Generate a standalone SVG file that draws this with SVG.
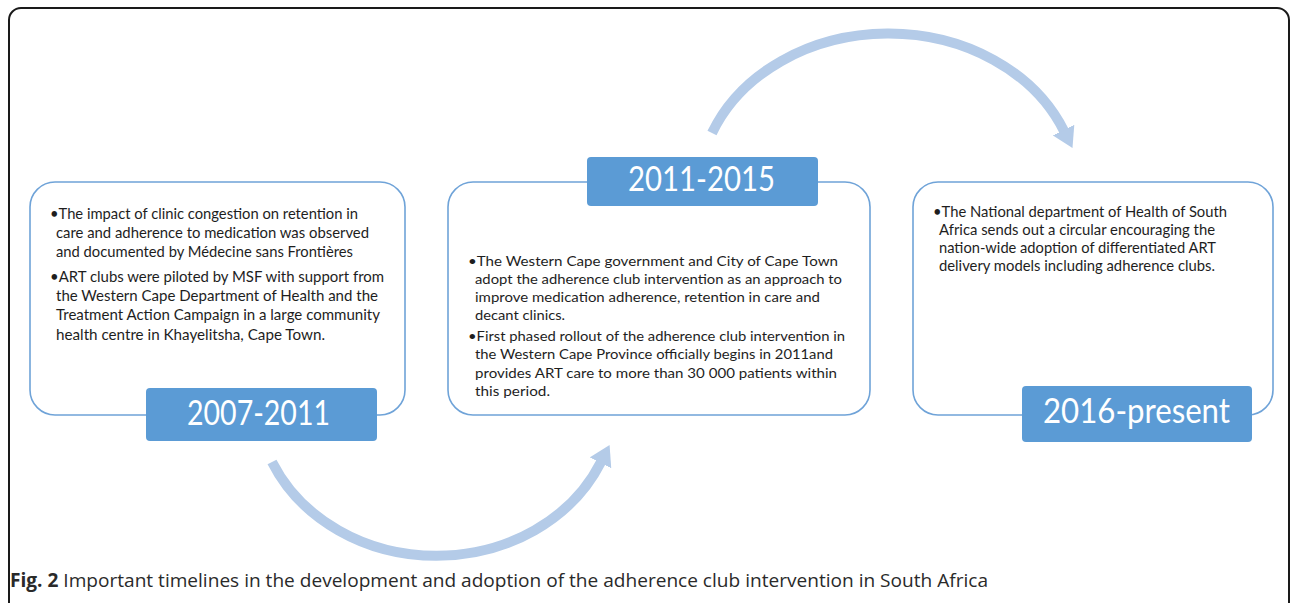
<svg xmlns="http://www.w3.org/2000/svg" width="1290" height="603" viewBox="0 0 1290 603">
<style>
.frame{fill:#fff;stroke:#1a1a1a;stroke-width:2}
.box{fill:#fff;stroke:#6fa3d8;stroke-width:1.6}
.lab{fill:#5b9bd5}
.labt{fill:#fff;font-family:Lato,"Open Sans",sans-serif;font-size:35px}
.t1{fill:#1e1e1e;font-family:Lato,"Liberation Sans",sans-serif;font-size:15px}
.t2{fill:#1e1e1e;font-family:Lato,"Liberation Sans",sans-serif;font-size:14px}
.arc{fill:none;stroke:#b4cbe8;stroke-width:10}
.cap{fill:#2a2a2a;font-family:"Open Sans","Liberation Sans",sans-serif;font-size:19px}
</style>
<defs>
<marker id="ah" markerUnits="userSpaceOnUse" markerWidth="20" markerHeight="24" refX="1" refY="12" orient="auto" viewBox="0 0 20 24">
<path d="M0,0 L20,12 L0,24 z" fill="#b4cbe8"/>
</marker>
</defs>
<rect class="frame" x="9" y="8" width="1280" height="610" rx="12"/>
<g id="connectors">
<path class="arc" d="M712,133 A190,158 0 0 1 1064,131" marker-end="url(#ah)"/>
<path class="arc" d="M272,462 A180,158 0 0 0 601,462" marker-end="url(#ah)"/>
</g>
<g id="node-2007">
<rect class="box" x="30" y="182" width="375" height="233" rx="25"/>
<rect class="lab" x="146" y="388" width="231" height="53" rx="4"/>
<text class="labt" x="187" y="425" textLength="143" lengthAdjust="spacingAndGlyphs">2007-2011</text>
<text class="t1" x="50" y="219" textLength="308" lengthAdjust="spacingAndGlyphs">•The impact of clinic congestion on retention in</text>
<text class="t1" x="56" y="238" textLength="313" lengthAdjust="spacingAndGlyphs">care and adherence to medication was observed</text>
<text class="t1" x="56" y="257" textLength="297" lengthAdjust="spacingAndGlyphs">and documented by Médecine sans Frontières</text>
<text class="t1" x="50" y="282" textLength="334" lengthAdjust="spacingAndGlyphs">•ART clubs were piloted by MSF with support from</text>
<text class="t1" x="56" y="301" textLength="322" lengthAdjust="spacingAndGlyphs">the Western Cape Department of Health and the</text>
<text class="t1" x="56" y="320" textLength="324" lengthAdjust="spacingAndGlyphs">Treatment Action Campaign in a large community</text>
<text class="t1" x="56" y="340" textLength="269" lengthAdjust="spacingAndGlyphs">health centre in Khayelitsha, Cape Town.</text>
</g>
<g id="node-2011">
<rect class="box" x="448" y="182" width="422" height="233" rx="25"/>
<rect class="lab" x="587" y="157" width="231" height="49" rx="4"/>
<text class="labt" x="628" y="191" textLength="147" lengthAdjust="spacingAndGlyphs">2011-2015</text>
<text class="t2" x="468" y="266" textLength="370" lengthAdjust="spacingAndGlyphs">•The Western Cape government and City of Cape Town</text>
<text class="t2" x="475" y="284" textLength="367" lengthAdjust="spacingAndGlyphs">adopt the adherence club intervention as an approach to</text>
<text class="t2" x="475" y="302" textLength="345" lengthAdjust="spacingAndGlyphs">improve medication adherence, retention in care and</text>
<text class="t2" x="475" y="320" textLength="90" lengthAdjust="spacingAndGlyphs">decant clinics.</text>
<text class="t2" x="468" y="341" textLength="377" lengthAdjust="spacingAndGlyphs">•First phased rollout of the adherence club intervention in</text>
<text class="t2" x="475" y="359" textLength="358" lengthAdjust="spacingAndGlyphs">the Western Cape Province officially begins in 2011and</text>
<text class="t2" x="475" y="378" textLength="362" lengthAdjust="spacingAndGlyphs">provides ART care to more than 30 000 patients within</text>
<text class="t2" x="475" y="396" textLength="75" lengthAdjust="spacingAndGlyphs">this period.</text>
</g>
<g id="node-2016">
<rect class="box" x="913" y="182" width="360" height="233" rx="25"/>
<rect class="lab" x="1022" y="386" width="230" height="56" rx="4"/>
<text class="labt" x="1043" y="423" textLength="187" lengthAdjust="spacingAndGlyphs">2016-present</text>
<text class="t1" x="933" y="217" textLength="294" lengthAdjust="spacingAndGlyphs">•The National department of Health of South</text>
<text class="t1" x="939" y="235" textLength="276" lengthAdjust="spacingAndGlyphs">Africa sends out a circular encouraging the</text>
<text class="t1" x="939" y="253" textLength="277" lengthAdjust="spacingAndGlyphs">nation-wide adoption of differentiated ART</text>
<text class="t1" x="939" y="271" textLength="276" lengthAdjust="spacingAndGlyphs">delivery models including adherence clubs.</text>
</g>
<text class="cap" x="10" y="587" textLength="978" lengthAdjust="spacingAndGlyphs"><tspan font-weight="bold">Fig. 2</tspan> Important timelines in the development and adoption of the adherence club intervention in South Africa</text>
</svg>
